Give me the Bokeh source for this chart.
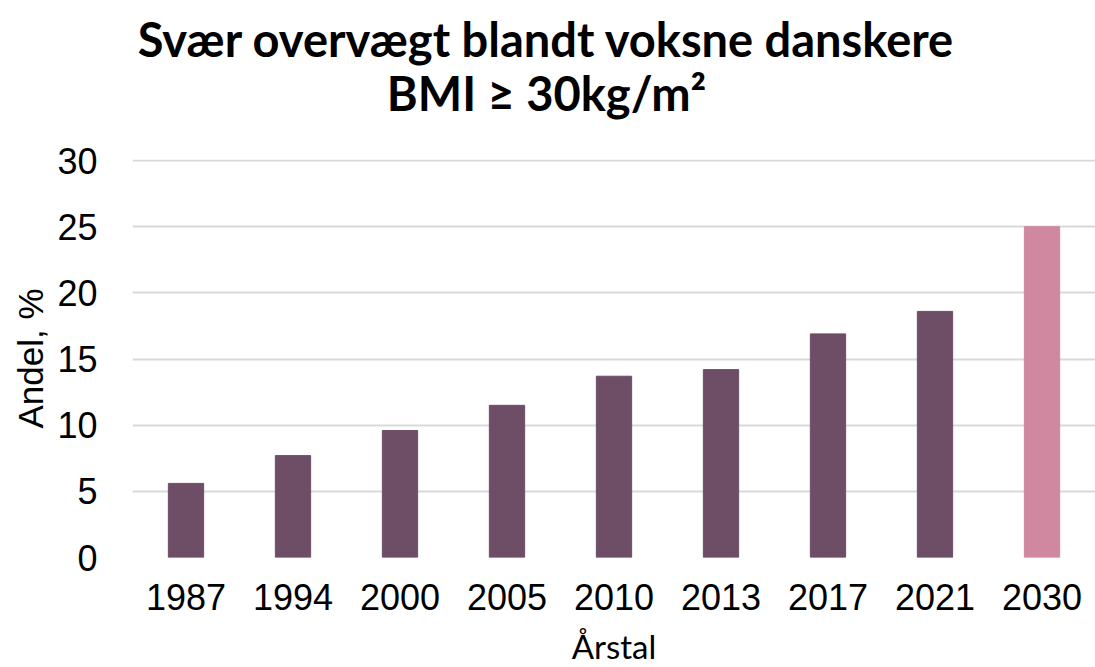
from bokeh.plotting import figure
from bokeh.layouts import column
from bokeh.models import ColumnDataSource, FactorRange, Range1d, SingleIntervalTicker
from bokeh.core.properties import value
from bokeh.embed import file_html
from bokeh.resources import INLINE

years = ["1987", "1994", "2000", "2005", "2010", "2013", "2017", "2021", "2030"]
shares = [5.6, 7.7, 9.6, 11.5, 13.7, 14.2, 16.9, 18.6, 25.0]
colors = ["#6d4e66"] * 8 + ["#cf88a0"]
title_lines = ["Svær overvægt blandt voksne danskere", "BMI ≥ 30kg/m²"]

# ---- title strip: frame aligned with the chart frame ----
tp = figure(frame_width=963, frame_height=130, x_range=Range1d(132, 1095), y_range=Range1d(0, 130),
            x_axis_location=None, y_axis_location=None,
            output_backend="svg", toolbar_location=None,
            min_border_left=132, min_border_right=0, min_border_top=0, min_border_bottom=0)
try:
    tp.title = None
except Exception:
    tp.title.visible = False
tp.grid.visible = False
tp.outline_line_color = None
tp.text(x=[546, 546], y=[92, 38], text=title_lines, text_align="center",
        text_baseline="alphabetic", text_font=value("Lato"), text_font_style="bold",
        text_font_size="47px", text_color="#000000")

# ---- bar chart ----
src = ColumnDataSource(dict(year=years, share=shares, color=colors))

p = figure(x_range=FactorRange(*years, range_padding=0), y_range=Range1d(0, 30.08),
           frame_width=963, frame_height=398, output_backend="svg", toolbar_location=None,
           min_border_left=132, min_border_right=0, min_border_top=29, min_border_bottom=110)
p.outline_line_color = None

p.vbar(x="year", top="share", width=0.33, color="color", source=src)

p.yaxis.ticker = SingleIntervalTicker(interval=5)
p.ygrid.grid_line_color = "#d9d9d9"
p.ygrid.grid_line_width = 2
p.xgrid.grid_line_color = None

for ax in (p.xaxis[0], p.yaxis[0]):
    ax.axis_line_color = None
    ax.major_tick_line_color = None
    ax.minor_tick_line_color = None
    ax.major_label_text_font = "Liberation Sans"
    ax.major_label_text_font_size = "36px"
    ax.major_label_text_color = "#000000"
    ax.axis_label_text_font_style = "normal"
    ax.axis_label_text_color = "#000000"

p.xaxis.axis_label = "Årstal"
p.xaxis.axis_label_text_font = "Lato"
p.xaxis.axis_label_text_font_size = "33px"
p.xaxis.major_label_standoff = 20
p.xaxis.axis_label_standoff = 13

p.yaxis.axis_label = "Andel, %"
p.yaxis.axis_label_text_font = "Liberation Sans"
p.yaxis.axis_label_text_font_size = "35px"
p.yaxis.major_label_standoff = 29
p.yaxis.axis_label_standoff = 4

open("out.html", "w").write(file_html(column(tp, p, spacing=0), INLINE))
